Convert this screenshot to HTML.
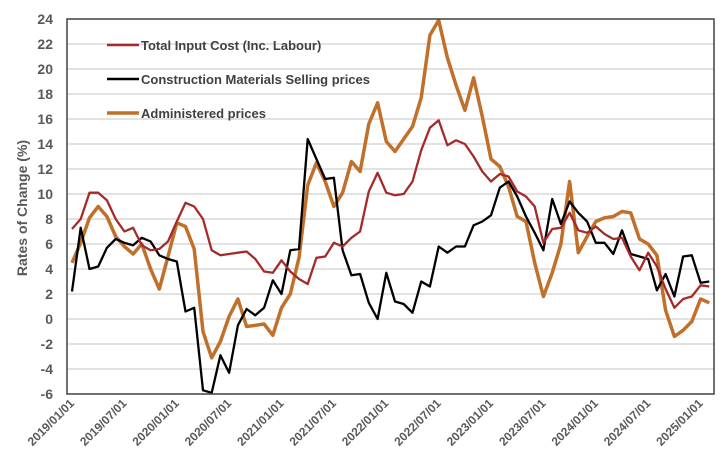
<!DOCTYPE html>
<html><head><meta charset="utf-8">
<style>
html,body{margin:0;padding:0;background:#fff;}
svg{display:block;font-family:"Liberation Sans",Arial,sans-serif;}
</style></head>
<body>
<svg id="chart" width="728" height="464" viewBox="0 0 728 464" xmlns="http://www.w3.org/2000/svg">
<rect x="0" y="0" width="728" height="464" fill="#fff"/>
<g id="grid"></g>
<g id="yticks"></g>
<g id="xticks"></g>
<text transform="translate(27,208) rotate(-90)" text-anchor="middle" font-size="14" font-weight="bold" fill="#595959">Rates of Change (%)</text>
<g id="series"></g>
<rect x="67" y="19" width="647" height="375" fill="none" stroke="#404040" stroke-width="1.5"/>
<g>
  <g>
    <line x1="107" y1="45" x2="139" y2="45" stroke="#a52a2a" stroke-width="2.5"/>
    <text x="141" y="50" font-size="13" font-weight="bold" fill="#404040">Total Input Cost (Inc. Labour)</text>
  </g>
  <g>
    <line x1="107" y1="79" x2="139" y2="79" stroke="#000" stroke-width="2.5"/>
    <text x="141" y="84" font-size="13" font-weight="bold" fill="#404040">Construction Materials Selling prices</text>
  </g>
  <g>
    <line x1="107" y1="113" x2="139" y2="113" stroke="#c0702a" stroke-width="3.5"/>
    <text x="141" y="118" font-size="13" font-weight="bold" fill="#404040">Administered prices</text>
  </g>
</g>
</svg>
<script>
const xLabels = ["2019/01/01","2019/07/01","2020/01/01","2020/07/01","2021/01/01","2021/07/01","2022/01/01","2022/07/01","2023/01/01","2023/07/01","2024/01/01","2024/07/01","2025/01/01"];
const yTicks = [-6,-4,-2,0,2,4,6,8,10,12,14,16,18,20,22,24];
const totalInputCost = [7.2,8,10.1,10.1,9.5,8,7,7.3,5.9,5.5,5.6,6.2,7.8,9.3,9,8,5.5,5.1,5.2,5.3,5.4,4.8,3.8,3.7,4.7,3.8,3.2,2.8,4.9,5,6.1,5.8,6.5,7,10.2,11.7,10.1,9.9,10,11,13.5,15.3,15.9,13.9,14.3,14,13,11.8,11,11.6,11.4,10.2,9.8,9,6.1,7.2,7.3,8.5,7.1,6.9,7.4,6.8,6.4,6.5,5,3.9,5.3,4.2,2.4,0.9,1.6,1.8,2.7,2.6];
const constructionMaterials = [2.2,7.3,4,4.2,5.7,6.4,6.1,5.9,6.5,6.2,5.1,4.8,4.6,0.6,0.9,-5.7,-5.9,-2.9,-4.3,-0.5,0.8,0.3,0.9,3.1,2,5.5,5.6,14.4,12.8,11.2,11.3,5.5,3.5,3.6,1.3,0,3.7,1.4,1.2,0.5,3,2.6,5.8,5.3,5.8,5.8,7.5,7.8,8.3,10.5,11,9.8,8.2,6.9,5.5,9.6,7.6,9.4,8.5,7.8,6.1,6.1,5.2,7.1,5.2,5,4.8,2.3,3.6,1.8,5,5.1,2.9,3];
const administeredPrices = [4.5,6.1,8.1,9,8.2,6.6,5.8,5.2,6,4,2.4,5,7.7,7.4,5.6,-1,-3.1,-1.8,0.2,1.6,-0.6,-0.5,-0.4,-1.3,0.9,2,4.9,10.7,12.5,11,9,10.1,12.6,11.8,15.6,17.3,14.2,13.4,14.4,15.4,17.7,22.7,23.9,20.9,18.7,16.7,19.3,16.2,12.8,12.2,10.6,8.2,7.8,4.5,1.8,3.7,6,11,5.3,6.6,7.8,8.1,8.2,8.6,8.5,6.4,6,5.1,0.7,-1.4,-0.9,-0.2,1.6,1.3];

const NS = "http://www.w3.org/2000/svg";
const yMin = -6, yMax = 24, plotTop = 19, plotBottom = 394;
function yScale(v){ return plotBottom - (v - yMin) / (yMax - yMin) * (plotBottom - plotTop); }
const x0 = 72, step = 8.73;
function xScale(i){ return x0 + i * step; }

const grid = document.getElementById('grid');
const yt = document.getElementById('yticks');
yTicks.forEach(v => {
  const y = yScale(v);
  if (v > yMin && v < yMax) {
    const l = document.createElementNS(NS, 'line');
    l.setAttribute('x1', 67); l.setAttribute('x2', 714);
    l.setAttribute('y1', y); l.setAttribute('y2', y);
    l.setAttribute('stroke', '#d9d9d9'); l.setAttribute('stroke-width', '1.5');
    
    
    grid.appendChild(l);
  }
  const t = document.createElementNS(NS, 'text');
  t.setAttribute('x', 53); t.setAttribute('y', y + 5);
  t.setAttribute('text-anchor', 'end');
  t.setAttribute('font-size', '14'); t.setAttribute('font-weight', 'bold'); t.setAttribute('fill', '#595959');
  t.textContent = v;
  
  
  yt.appendChild(t);
});

const xt = document.getElementById('xticks');
xLabels.forEach((lab, k) => {
  const x = xScale(k * 6) + 3, y = 404;
  const t = document.createElementNS(NS, 'text');
  t.setAttribute('x', x); t.setAttribute('y', y);
  t.setAttribute('text-anchor', 'end');
  t.setAttribute('transform', 'rotate(-45 ' + x + ' ' + y + ')');
  t.setAttribute('font-size', '12'); t.setAttribute('font-weight', 'bold'); t.setAttribute('fill', '#595959');
  t.textContent = lab;
  
  
  xt.appendChild(t);
});

const series = document.getElementById('series');
function drawLine(vals, color, width, name){
  const p = document.createElementNS(NS, 'polyline');
  p.setAttribute('points', vals.map((v, i) => xScale(i).toFixed(1) + ',' + yScale(v).toFixed(1)).join(' '));
  p.setAttribute('fill', 'none'); p.setAttribute('stroke', color);
  p.setAttribute('stroke-width', width); p.setAttribute('stroke-linejoin', 'round');
  
  
  series.appendChild(p);
}
drawLine(administeredPrices, '#c0702a', 3.5, 'administered-prices-line');
drawLine(constructionMaterials, '#000000', 2.3, 'construction-materials-line');
drawLine(totalInputCost, '#a52a2a', 2.3, 'total-input-cost-line');
</script>
</body></html>
